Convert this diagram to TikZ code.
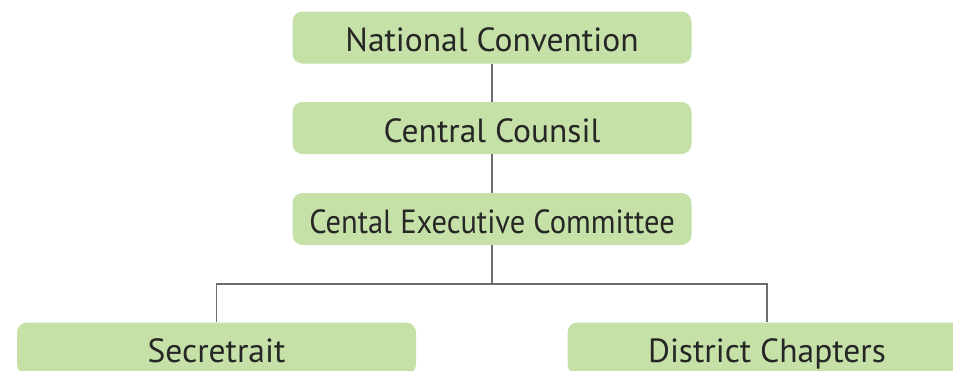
\documentclass[tikz,border=0pt]{standalone}
\usepackage{fontspec}
\setmainfont{PT Sans}
\definecolor{boxgreen}{HTML}{C5E1A7}
\definecolor{linegray}{HTML}{6E6E70}
\begin{document}
\begin{tikzpicture}[x=1pt,y=-1pt,
  orgbox/.style={fill=boxgreen, draw=none, rounded corners=10pt, minimum width=399pt, minimum height=52pt, inner sep=0pt, text height=28pt, text depth=0pt, font=\fontsize{33.5}{40}\selectfont, text=black!85},
  conn/.style={draw=linegray, line width=1.8pt}]
\useasboundingbox (0,0) rectangle (953,370);
\clip (0,0) rectangle (953,370);
\node[orgbox] (nc) at (492,37.5) {National Convention};
\node[orgbox] (cc) at (492,128) {Central Counsil};
\node[orgbox] (cec) at (492,219) {\scalebox{0.91}[1]{Cental Executive Committee}};
\node[orgbox] (sec) at (216.5,348.5) {Secretrait};
\node[orgbox] (dc) at (767,348.5) {District Chapters};
\coordinate (j) at (492,284);
\draw[conn] (nc.south) -- (cc.north);
\draw[conn] (cc.south) -- (cec.north);
\draw[conn] (cec.south) -- (j);
\draw[conn] (sec.north) |- (j) -| (dc.north);
\end{tikzpicture}
\end{document}
